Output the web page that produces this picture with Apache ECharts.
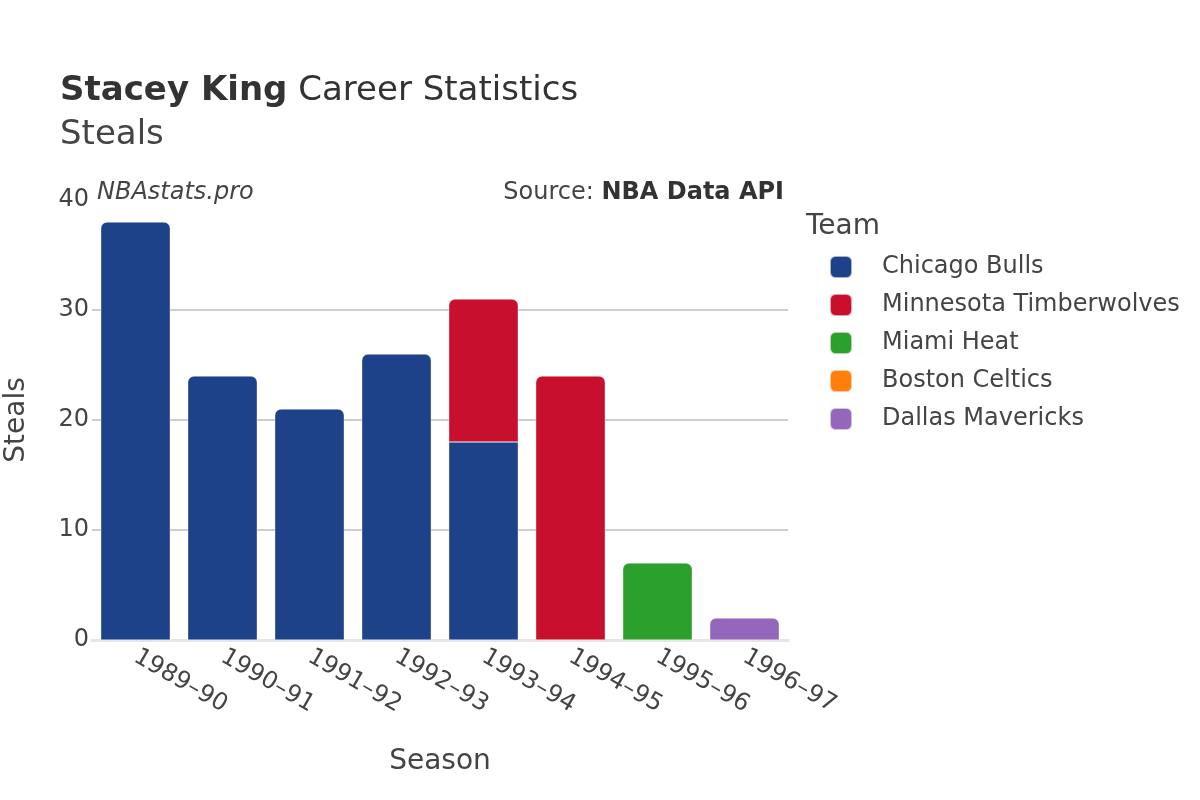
<!DOCTYPE html>
<html>
<head>
<meta charset="utf-8">
<script src="https://cdn.jsdelivr.net/npm/echarts@6/dist/echarts.min.js"></script>
<style>html,body{margin:0;padding:0;background:#fff}#c{width:1200px;height:800px}</style>
</head>
<body>
<div id="c"></div>
<script>
const seasons = ['1989–90','1990–91','1991–92','1992–93','1993–94','1994–95','1995–96','1996–97'];
const teams = ['Chicago Bulls','Minnesota Timberwolves','Miami Heat','Boston Celtics','Dallas Mavericks'];
const chicagoBulls = [38, 24, 21, 26, 18, null, null, null];
const minnesotaTimberwolves = [null, null, null, null, 13, 24, null, null];
const miamiHeat = [null, null, null, null, null, null, 7, null];
const bostonCeltics = [null, null, null, null, null, null, null, null];
const dallasMavericks = [null, null, null, null, null, null, null, 2];
const yTicks = [0, 10, 20, 30, 40];
const teamColors = ['#1d428a', '#c8102e', '#2ca02c', '#ff7f0e', '#9467bd'];

const allData = [chicagoBulls, minnesotaTimberwolves, miamiHeat, bostonCeltics, dallasMavericks];
const font = 'DejaVu Sans';

const series = teams.map((name, si) => ({
  name,
  type: 'bar',
  stack: 'total',
  barCategoryGap: '20%',
  itemStyle: { color: teamColors[si], borderColor: 'rgba(255,255,255,0.6)', borderWidth: 0.6 },
  data: allData[si].map((v, ci) => {
    if (v == null) return null;
    const hasAbove = allData.slice(si + 1).some(arr => arr[ci] != null && arr[ci] > 0);
    return { value: v, itemStyle: { borderRadius: hasAbove ? 0 : [6, 6, 0, 0] } };
  })
}));

const chart = echarts.init(document.getElementById('c'), null, { renderer: 'canvas' });
chart.setOption({
  animation: false,
  backgroundColor: '#fff',
  textStyle: { fontFamily: font },
  grid: { left: 92, right: 412, top: 200, bottom: 160, containLabel: false, outerBoundsMode: 'none' },
  xAxis: {
    type: 'category',
    data: seasons,
    axisLine: { show: true, lineStyle: { color: '#e5e5e5', width: 3 } },
    axisTick: { show: false },
    axisLabel: { rotate: -30, fontSize: 24, color: '#444', fontFamily: font, margin: 15 },
    name: 'Season',
    nameLocation: 'middle',
    nameGap: 108,
    nameTextStyle: { fontSize: 28, color: '#444', fontFamily: font }
  },
  yAxis: {
    type: 'value',
    min: yTicks[0],
    max: yTicks[yTicks.length - 1],
    interval: 10,
    axisLine: { show: false },
    axisTick: { show: false },
    axisLabel: { fontSize: 24, color: '#444', fontFamily: font, margin: 3 },
    splitLine: { show: true, lineStyle: { color: ['#e5e5e5', '#bdbdbd', '#bdbdbd', '#bdbdbd', 'rgba(0,0,0,0)'], width: 1.5 } },
    name: 'Steals',
    nameLocation: 'middle',
    nameGap: 61,
    nameRotate: 90,
    nameTextStyle: { fontSize: 28, color: '#444', fontFamily: font }
  },
  legend: {
    orient: 'vertical',
    left: 824,
    top: 250,
    itemWidth: 22,
    itemHeight: 22,
    itemGap: 14,
    icon: 'roundRect',
    data: teams,
    textStyle: { fontSize: 24, lineHeight: 24, color: '#444', fontFamily: font, padding: [0, 0, 0, 25] }
  },
  graphic: [
    { type: 'text', left: 60, top: 74, style: { text: '{b|Stacey King}{n| Career Statistics}', rich: { b: { fontSize: 34, fontWeight: 'bold', fill: '#333', fontFamily: font }, n: { fontSize: 34, fill: '#333', fontFamily: font } } } },
    { type: 'text', left: 60, top: 118, style: { text: 'Steals', fontSize: 34, fill: '#444', fontFamily: font } },
    { type: 'text', left: 97, top: 181, style: { text: 'NBAstats.pro', fontSize: 24, fontStyle: 'italic', fill: '#444', fontFamily: font } },
    { type: 'text', right: 416, top: 181, style: { text: '{n|Source: }{b|NBA Data API}', rich: { n: { fontSize: 24, fill: '#444', fontFamily: font }, b: { fontSize: 24, fontWeight: 'bold', fill: '#333', fontFamily: font } } } },
    { type: 'text', left: 806, top: 213, style: { text: 'Team', fontSize: 28, fill: '#444', fontFamily: font } }
  ],
  series
});
</script>
</body>
</html>
